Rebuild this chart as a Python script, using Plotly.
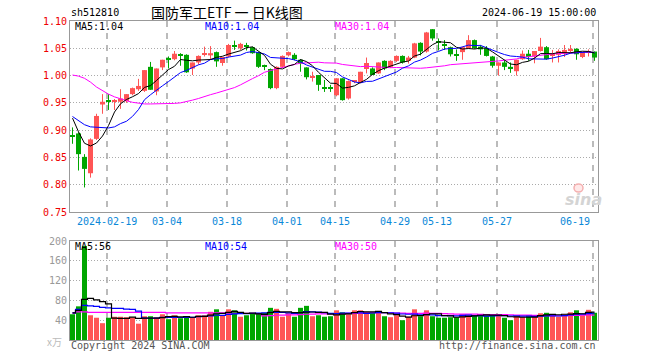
import numpy as np
import pandas as pd
import plotly.graph_objects as go

# ---------------- data ----------------
open_ = [0.890, 0.894, 0.851, 0.821, 0.884, 0.947, 0.953, 0.952, 0.952, 0.953,
         0.966, 0.975, 0.972, 1.016, 0.971, 1.015, 1.030, 1.030, 1.037, 1.038,
         1.013, 1.024, 1.039, 1.037, 1.043, 1.023, 1.035, 1.055, 1.050, 1.055,
         1.052, 1.043, 1.017, 1.012, 0.977, 1.016, 1.037, 1.038, 1.029, 1.015,
         0.997, 1.001, 0.977, 0.977, 0.964, 0.995, 0.958, 0.989, 0.987, 1.012,
         1.013, 1.004, 1.027, 1.016, 1.027, 1.036, 1.027, 1.033, 1.060, 1.044,
         1.085, 1.063, 1.057, 1.052, 1.039, 1.043, 1.050, 1.065, 1.053, 1.050,
         1.035, 1.018, 1.024, 1.016, 1.008, 1.030, 1.040, 1.035, 1.045, 1.052,
         1.037, 1.038, 1.040, 1.045, 1.049, 1.034, 1.042, 1.044]
high = [0.905, 0.896, 0.856, 0.885, 0.930, 0.966, 0.966, 0.957, 0.975, 0.966,
        0.978, 0.994, 1.010, 1.025, 1.013, 1.029, 1.035, 1.045, 1.041, 1.039,
        1.024, 1.037, 1.053, 1.054, 1.044, 1.034, 1.058, 1.064, 1.060, 1.060,
        1.053, 1.044, 1.020, 1.013, 1.017, 1.037, 1.044, 1.041, 1.030, 1.015,
        1.007, 1.001, 0.992, 0.983, 0.995, 0.995, 0.991, 0.991, 1.007, 1.033,
        1.015, 1.024, 1.028, 1.028, 1.037, 1.037, 1.036, 1.060, 1.061, 1.080,
        1.085, 1.068, 1.065, 1.053, 1.048, 1.053, 1.074, 1.066, 1.056, 1.054,
        1.036, 1.024, 1.029, 1.024, 1.029, 1.046, 1.047, 1.045, 1.069, 1.054,
        1.047, 1.048, 1.056, 1.056, 1.050, 1.043, 1.048, 1.044]
low = [0.875, 0.826, 0.795, 0.813, 0.882, 0.930, 0.937, 0.937, 0.939, 0.950,
       0.964, 0.972, 0.970, 0.974, 0.964, 1.010, 1.013, 1.028, 1.018, 1.005,
       1.001, 1.020, 1.035, 1.030, 1.016, 1.018, 1.033, 1.047, 1.047, 1.046,
       1.040, 1.014, 1.010, 0.975, 0.975, 1.014, 1.035, 1.028, 1.007, 0.993,
       0.989, 0.972, 0.970, 0.970, 0.962, 0.954, 0.956, 0.986, 0.986, 1.004,
       1.001, 1.003, 1.010, 1.014, 1.025, 1.022, 1.022, 1.032, 1.037, 1.042,
       1.064, 1.046, 1.047, 1.035, 1.027, 1.029, 1.049, 1.049, 1.038, 1.035,
       1.0145, 1.000, 1.010, 1.005, 1.000, 1.029, 1.027, 1.0225, 1.044, 1.029,
       1.024, 1.024, 1.034, 1.041, 1.029, 1.032, 1.035, 1.027]
close = [0.888, 0.856, 0.829, 0.883, 0.926, 0.952, 0.952, 0.953, 0.958, 0.966,
         0.977, 0.981, 1.010, 0.974, 1.013, 1.029, 1.029, 1.040, 1.036, 1.006,
         1.024, 1.036, 1.040, 1.041, 1.026, 1.034, 1.056, 1.054, 1.058, 1.054,
         1.041, 1.016, 1.016, 0.977, 1.016, 1.036, 1.043, 1.030, 1.022, 0.997,
         0.998, 0.983, 0.976, 0.976, 0.995, 0.955, 0.990, 0.990, 1.007, 1.023,
         1.001, 1.024, 1.013, 1.027, 1.036, 1.024, 1.033, 1.059, 1.044, 1.079,
         1.068, 1.060, 1.055, 1.039, 1.037, 1.052, 1.065, 1.050, 1.048, 1.036,
         1.018, 1.024, 1.016, 1.012, 1.029, 1.040, 1.034, 1.045, 1.053, 1.030,
         1.038, 1.045, 1.047, 1.049, 1.039, 1.043, 1.043, 1.033]
volume = [52, 68, 190, 50, 45, 34, 45, 47, 47, 46,
          46, 33, 48, 48, 46, 52, 42, 50, 44, 48,
          46, 50, 50, 57, 62, 49, 62, 60, 47, 50,
          53, 54, 55, 65, 63, 47, 54, 47, 65, 69,
          48, 50, 47, 48, 60, 56, 52, 60, 60, 57,
          55, 57, 48, 46, 50, 40, 47, 62, 48, 60,
          48, 45, 45, 46, 46, 52, 50, 50, 52, 50,
          50, 50, 45, 40, 48, 47, 50, 47, 54, 55,
          52, 47, 52, 56, 60, 50, 61, 55]

# moving-average values before enough history exists
ma5_head = [0.922, 0.897, 0.876, 0.871]
ma10_head = [0.925, 0.917, 0.910, 0.906, 0.905, 0.904, 0.904, 0.906, 0.912]
ma30_head = [1.001, 0.999, 0.995, 0.988, 0.979, 0.972, 0.966, 0.961, 0.957, 0.954,
             0.951, 0.949, 0.948, 0.948, 0.948, 0.948, 0.948, 0.949, 0.950, 0.952,
             0.955, 0.958, 0.962, 0.965, 0.968, 0.971, 0.974, 0.978, 0.983]
vma5_head = [55, 60, 82, 84]
vma10_head = [55, 62, 70, 69, 68, 66, 65, 64, 64]
vma30_head = [54, 57, 57, 56, 56, 56, 56, 56, 56, 56, 56, 56, 56, 56, 56, 56,
              55, 55, 55, 55, 55, 55, 55, 55, 55, 55, 55, 54, 54]

tick_idx = [6, 16, 26, 36, 44, 54, 61, 71, 87]
tick_text = ["2024-02-19", "03-04", "03-18", "04-01", "04-15", "04-29", "05-13", "05-27", "06-19"]
price_ticks = [0.75, 0.80, 0.85, 0.90, 0.95, 1.00, 1.05, 1.10]
vol_ticks = [40, 80, 120, 160, 200]

code = "sh512810"
title = "国防军工ETF 一 日K线图"
stamp = "2024-06-19 15:00:00"

# ---------------- derived ----------------
W, H = 660, 360
n = len(close)
x = np.arange(n)
o = np.array(open_); c = np.array(close); hi = np.array(high); lo = np.array(low)
up = c >= o
RED, GREEN = "#FF5555", "#00A600"
colors = [RED if u else GREEN for u in up]


def ma(values, w, head):
    s = pd.Series(values, dtype=float).rolling(w).mean()
    s.iloc[:len(head)] = head
    return s.values


ma5 = ma(close, 5, ma5_head)
ma10 = ma(close, 10, ma10_head)
ma30 = ma(close, 30, ma30_head)
vma5 = ma(volume, 5, vma5_head)
vma10 = ma(volume, 10, vma10_head)
vma30 = ma(volume, 30, vma30_head)

MONO = "DejaVu Sans Mono"
fig = go.Figure()

# wicks
for flag, col in ((True, RED), (False, GREEN)):
    wx, wy = [], []
    for i in range(n):
        if bool(up[i]) == flag:
            wx += [i, i, None]
            wy += [lo[i], hi[i], None]
    fig.add_trace(go.Scatter(x=wx, y=wy, mode="lines", line=dict(color=col, width=1),
                             xaxis="x", yaxis="y", hoverinfo="skip"))

# bodies
base = np.minimum(o, c)
height = np.maximum(np.abs(c - o), 0.002)
fig.add_trace(go.Bar(x=x, y=height, base=base, width=5 / 6, marker=dict(color=colors, line=dict(width=0)),
                     xaxis="x", yaxis="y"))

for vals, col in ((ma30, "#FF00FF"), (ma10, "#0000FF"), (ma5, "#000000")):
    fig.add_trace(go.Scatter(x=x, y=vals, mode="lines", line=dict(color=col, width=1),
                             xaxis="x", yaxis="y", hoverinfo="skip"))

# volume
fig.add_trace(go.Bar(x=x, y=volume, width=5 / 6, marker=dict(color=colors, line=dict(width=0)),
                     xaxis="x2", yaxis="y2"))
for vals, col in ((vma30, "#FF00FF"), (vma10, "#0000FF"), (vma5, "#000000")):
    fig.add_trace(go.Scatter(x=x, y=vals, mode="lines", line=dict(color=col, width=1.2, shape="hvh"),
                             xaxis="x2", yaxis="y2", hoverinfo="skip"))

xr = [-2.5 / 6, n - 2.5 / 6]
grid_x = [i - 0.25 for i in tick_idx]
xcommon = dict(range=xr, domain=[70 / W, (70 + 6 * n) / W], tickvals=grid_x, showticklabels=False,
               ticks="", showgrid=True, gridcolor="#BBBBBB", gridwidth=2, griddash="6px,6px",
               showline=True, mirror=True, linecolor="#999999", linewidth=1, zeroline=False)
ycommon = dict(showgrid=True, gridcolor="#AAAAAA", gridwidth=1, griddash="1px,2px",
               showline=True, mirror=True, linecolor="#999999", linewidth=1, zeroline=False,
               ticks="", automargin=False)

fig.update_layout(
    width=W, height=H, autosize=False, margin=dict(l=0, r=0, t=0, b=0, pad=0),
    paper_bgcolor="white", plot_bgcolor="white", showlegend=False, barmode="overlay",
    xaxis=dict(anchor="y", **xcommon),
    xaxis2=dict(anchor="y2", matches="x", **xcommon),
    yaxis=dict(anchor="x", domain=[1 - 212 / H, 1 - 21 / H], range=[0.75, 1.10],
               tickvals=price_ticks, ticktext=[f"{v:.2f}" for v in price_ticks],
               tickfont=dict(family=MONO, size=10, color="#EE0000"), **ycommon),
    yaxis2=dict(anchor="x2", domain=[1 - 340 / H, 1 - 241 / H], range=[0, 200],
                tickvals=vol_ticks, ticktext=[str(v) for v in vol_ticks],
                tickfont=dict(family=MONO, size=10, color="#999999"), **ycommon),
)


def ann(text, px, py, color="#000000", size=10, xanchor="left", family=MONO, **kw):
    fig.add_annotation(text=text, x=px / W, y=1 - py / H, xref="paper", yref="paper",
                       xanchor=xanchor, yanchor="middle", showarrow=False,
                       font=dict(family=family, size=size, color=color), **kw)


ann(code, 69, 13)
ann(title, 149, 12, size=14, family="Noto Sans CJK SC")
ann(stamp, 598, 13, xanchor="right")
ann(f"MA5:{ma5[-1]:.2f}", 73, 26.5)
ann(f"MA10:{ma10[-1]:.2f}", 203, 26.5, color="#0000FF")
ann(f"MA30:{ma30[-1]:.2f}", 333, 26.5, color="#FF00FF")
ann(f"MA5:{vma5[-1]:.0f}", 73, 246.5)
ann(f"MA10:{vma10[-1]:.0f}", 203, 246.5, color="#0000FF")
ann(f"MA30:{vma30[-1]:.0f}", 333, 246.5, color="#FF00FF")
for i, t in zip(tick_idx, tick_text):
    px = 70 + 6 * (i - 0.25 + 2.5 / 6)
    if i == tick_idx[-1]:
        ann(t, 592, 221, color="#0A88D8", xanchor="right")
    else:
        ann(t, px, 221, color="#0A88D8", xanchor="center")
ann("x万", 64, 341, color="#BBBBBB", xanchor="right", family="Noto Sans CJK SC")
ann("Copyright 2024 SINA.COM", 69, 345.5, color="#555555")
ann("http://finance.sina.com.cn", 598, 345.5, color="#555555", xanchor="right")
ann("<b><i>sina</i></b>", 583, 199, color="#D4D4D4", size=16, xanchor="center", family="DejaVu Sans")
fig.add_shape(type="circle", xref="paper", yref="paper", x0=574 / W, x1=583 / W,
              y0=1 - 192 / H, y1=1 - 184 / H, line=dict(color="#F4B0B0", width=1.5),
              fillcolor="rgba(255,200,200,0.4)")

fig.write_html("out.html", config={"responsive": False, "displayModeBar": False},
               post_script="document.body.style.margin='0';document.body.style.padding='0';"
                           "document.body.style.overflow='hidden';")
